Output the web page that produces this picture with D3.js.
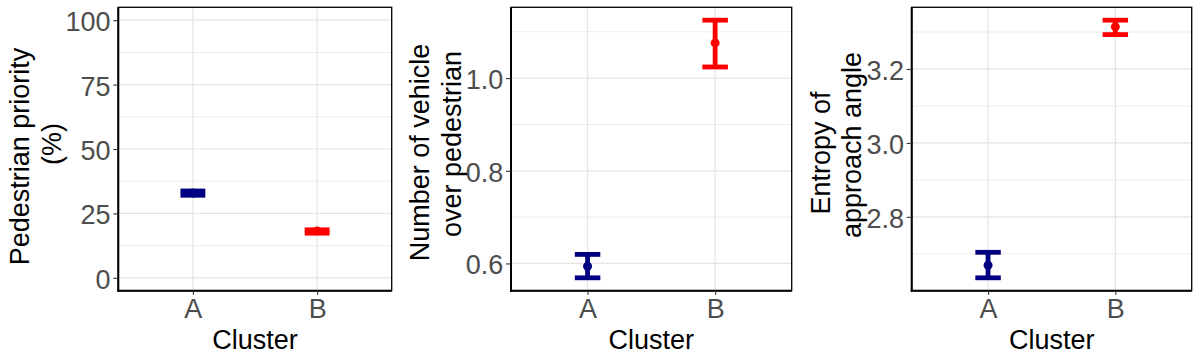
<!DOCTYPE html>
<html>
<head>
<meta charset="utf-8">
<script src="https://cdn.jsdelivr.net/npm/d3@7"></script>
<style>
  html, body { margin: 0; padding: 0; background: #ffffff; }
  svg { display: block; }
  text { font-family: "Liberation Sans", Arial, sans-serif; }
</style>
</head>
<body>
<svg id="chart" width="1196" height="361"></svg>
<script>
// ---------------- data ----------------
const categories = ["A", "B"];
const colors = ["#000080", "#FF0000"];

const pedMean = [32.9, 18.2];
const pedLow  = [32.05, 17.33];
const pedHigh = [33.7, 18.64];
const pedTicks = [0, 25, 50, 75, 100];
const pedTickLabels = ["0", "25", "50", "75", "100"];
const pedLimits = [0, 100];

const vehMean = [0.594, 1.076];
const vehLow  = [0.569, 1.024];
const vehHigh = [0.6195, 1.125];
const vehTicks = [0.6, 0.8, 1.0];
const vehTickLabels = ["0.6", "0.8", "1.0"];

const entMean = [2.669, 3.314];
const entLow  = [2.635, 3.293];
const entHigh = [2.704, 3.332];
const entTicks = [2.8, 3.0, 3.2];
const entTickLabels = ["2.8", "3.0", "3.2"];

const pedTitle = ["Pedestrian priority", "(%)"];
const vehTitle = ["Number of vehicle", "over pedestrian"];
const entTitle = ["Entropy of", "approach angle"];
const xTitle = "Cluster";

// ---------------- layout ----------------
const panelTop = 7.3, panelBottom = 290.7;
const panels = [
  { left: 118.3, right: 391.7, mean: pedMean, low: pedLow, high: pedHigh, ticks: pedTicks, labels: pedTickLabels, limits: pedLimits, title: pedTitle, tOff: [7.5, -5] },
  { left: 511, right: 791.7, mean: vehMean, low: vehLow, high: vehHigh, ticks: vehTicks, labels: vehTickLabels, limits: null, title: vehTitle, tOff: [3.5, -5] },
  { left: 911.7, right: 1191.7, mean: entMean, low: entLow, high: entHigh, ticks: entTicks, labels: entTickLabels, limits: null, title: entTitle, tOff: [4, -4] }
];

const FS = 27;
const LW = 4.8;
const svg = d3.select("#chart");
svg.append("rect").attr("width", 1196).attr("height", 361).attr("fill", "#ffffff");

panels.forEach(p => {
  const g = svg.append("g");
  const lo = p.limits ? p.limits[0] : d3.min(p.low);
  const hi = p.limits ? p.limits[1] : d3.max(p.high);
  const pad = (hi - lo) * 0.05;
  const y = d3.scaleLinear().domain([lo - pad, hi + pad]).range([panelBottom, panelTop]);
  const x = d3.scalePoint().domain(categories).range([p.left, p.right]).padding(0.6);
  const step = x.step();

  // minor grid
  const major = p.ticks;
  const d = major[1] - major[0];
  const minor = [];
  for (let v = major[0] - d / 2; v <= hi + pad; v += d) {
    if (v >= lo - pad) minor.push(v);
  }
  g.selectAll(".minor").data(minor).enter().append("line")
    .attr("x1", p.left).attr("x2", p.right)
    .attr("y1", v => y(v)).attr("y2", v => y(v))
    .attr("stroke", "#ebebeb").attr("stroke-width", 1);
  // major grid
  g.selectAll(".majorY").data(major).enter().append("line")
    .attr("x1", p.left).attr("x2", p.right)
    .attr("y1", v => y(v)).attr("y2", v => y(v))
    .attr("stroke", "#e5e5e5").attr("stroke-width", 1.2);
  g.selectAll(".majorX").data(categories).enter().append("line")
    .attr("x1", c => x(c)).attr("x2", c => x(c))
    .attr("y1", panelTop).attr("y2", panelBottom)
    .attr("stroke", "#e5e5e5").attr("stroke-width", 1.2);

  // error bars
  const half = 0.1 * step;
  categories.forEach((c, i) => {
    const col = colors[i];
    const cx = x(c);
    g.append("line").attr("x1", cx).attr("x2", cx)
      .attr("y1", y(p.low[i])).attr("y2", y(p.high[i]))
      .attr("stroke", col).attr("stroke-width", LW);
    [p.low[i], p.high[i]].forEach(v => {
      g.append("line").attr("x1", cx - half).attr("x2", cx + half)
        .attr("y1", y(v)).attr("y2", y(v))
        .attr("stroke", col).attr("stroke-width", LW);
    });
    g.append("circle").attr("cx", cx).attr("cy", y(p.mean[i])).attr("r", 4.5).attr("fill", col);
  });

  // border
  g.append("rect").attr("x", p.left).attr("y", panelTop)
    .attr("width", p.right - p.left).attr("height", panelBottom - panelTop)
    .attr("fill", "none").attr("stroke", "#000").attr("stroke-width", 1.3);
  g.append("line").attr("x1", p.left).attr("x2", p.left).attr("y1", panelTop).attr("y2", panelBottom + 1)
    .attr("stroke", "#000").attr("stroke-width", 2);
  g.append("line").attr("x1", p.left - 1).attr("x2", p.right).attr("y1", panelBottom).attr("y2", panelBottom)
    .attr("stroke", "#000").attr("stroke-width", 2);

  // y axis
  const yAxis = d3.axisLeft(y).tickValues(p.ticks).tickSize(5).tickPadding(2.7)
    .tickFormat((v, i) => p.labels[i]);
  const ya = g.append("g").attr("transform", `translate(${p.left},0)`).call(yAxis);
  ya.select(".domain").remove();
  ya.selectAll(".tick line").attr("stroke", "#333333").attr("stroke-width", 1.1);
  ya.selectAll(".tick text").attr("fill", "#4D4D4D").attr("font-size", FS)
    .attr("font-family", "Liberation Sans, Arial, sans-serif").attr("dy", "0.39em");

  // x axis
  const xAxis = d3.axisBottom(x).tickSize(4).tickPadding(4.6);
  const xa = g.append("g").attr("transform", `translate(0,${panelBottom})`).call(xAxis);
  xa.select(".domain").remove();
  xa.selectAll(".tick line").attr("stroke", "#333333").attr("stroke-width", 1.1);
  xa.selectAll(".tick text").attr("fill", "#4D4D4D").attr("font-size", FS)
    .attr("font-family", "Liberation Sans, Arial, sans-serif");

  // x title
  g.append("text").attr("x", (p.left + p.right) / 2).attr("y", 349.3)
    .attr("text-anchor", "middle").attr("font-size", FS).attr("fill", "#000").text(xTitle);

  // y title
  let minLeft = Infinity;
  ya.selectAll(".tick text").each(function () {
    const w = this.getComputedTextLength();
    minLeft = Math.min(minLeft, p.left - 7.7 - w);
  });
  const base1 = minLeft - 36.5;
  const cy = (panelTop + panelBottom) / 2;
  p.title.forEach((t, k) => {
    const bx = base1 + k * 31.5;
    const c = cy + p.tOff[k];
    g.append("text").attr("transform", `translate(${bx},${c}) rotate(-90)`)
      .attr("text-anchor", "middle").attr("font-size", FS).attr("fill", "#000").text(t);
  });
});
</script>
</body>
</html>
